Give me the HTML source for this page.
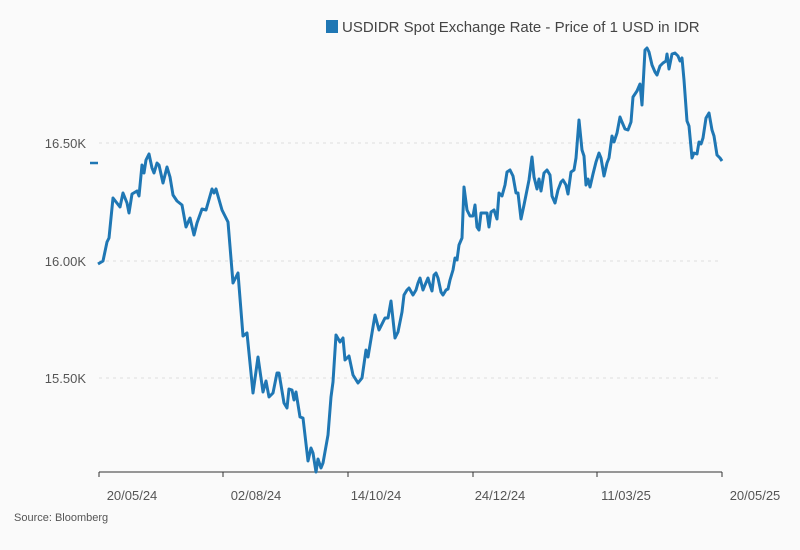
<!DOCTYPE html>
<html><head><meta charset="utf-8"><style>
body{margin:0;background:#fafafa;font-family:"Liberation Sans",sans-serif;}
</style></head><body>
<svg width="800" height="550" viewBox="0 0 800 550" xmlns="http://www.w3.org/2000/svg" style="display:block">
<rect width="800" height="550" fill="#fafafa"/>
<rect x="326" y="20" width="12" height="13" fill="#1f77b4"/>
<text x="342" y="32" font-size="15" fill="#444">USDIDR Spot Exchange Rate - Price of 1 USD in IDR</text>
<g stroke="#ddd" stroke-dasharray="3,4" stroke-width="1">
<line x1="99" y1="143" x2="722" y2="143"/><line x1="99" y1="261" x2="722" y2="261"/><line x1="99" y1="378" x2="722" y2="378"/>
</g>
<g font-size="13" fill="#555" text-anchor="end">
<text x="86" y="148">16.50K</text><text x="86" y="266">16.00K</text><text x="86" y="383">15.50K</text>
</g>
<line x1="90" y1="163" x2="98" y2="163" stroke="#1f77b4" stroke-width="2.5"/>
<line x1="99" y1="472" x2="722" y2="472" stroke="#333" stroke-width="1"/>
<g stroke="#333"><line x1="99" y1="472" x2="99" y2="477"/><line x1="223" y1="472" x2="223" y2="477"/><line x1="348" y1="472" x2="348" y2="477"/><line x1="473" y1="472" x2="473" y2="477"/><line x1="597" y1="472" x2="597" y2="477"/><line x1="722" y1="472" x2="722" y2="477"/></g>
<g font-size="13" fill="#555" text-anchor="middle">
<text x="132" y="500">20/05/24</text><text x="256" y="500">02/08/24</text><text x="376" y="500">14/10/24</text><text x="500" y="500">24/12/24</text><text x="626" y="500">11/03/25</text><text x="755" y="500">20/05/25</text>
</g>
<text x="14" y="521" font-size="11" fill="#555">Source: Bloomberg</text>
<polyline fill="none" stroke="#1f77b4" stroke-width="3" stroke-linejoin="round" points="98,264 103,261 107,242 109,238 113,198 120,207 123,193 127,203 129,213 132,194 137,191 139,196 142,165 144,173 146,160 149,154 152,168 154,173 157,163 159,165 163,183 167,167 170,177 173,195 177,201 182,205 186,227 190,218 194,235 197,223 202,209 206,210 212,189 214,193 216,189 222,210 225,216 228,222 233,283 238,273 243,336 247,333 253,393 258,357 263,392 266,381 269,397 273,393 277,373 279,373 284,403 287,408 289,389 292,390 294,400 296,392 300,417 303,418 308,461 311,448 313,453 316,472 318,459 321,468 323,463 328,435 331,397 333,382 336,335 340,342 343,338 345,360 349,356 353,375 358,383 362,378 366,350 368,357 375,315 379,330 385,318 388,318 391,301 395,338 398,332 402,312 404,295 407,290 409,288 413,295 416,290 418,283 420,278 423,290 425,285 428,278 430,285 432,291 434,275 436,273 438,278 441,292 443,295 446,290 448,289 450,280 453,270 455,258 457,260 459,245 462,238 464,187 467,210 470,216 473,216 475,205 477,227 479,230 481,213 484,213 487,213 489,227 491,212 494,210 497,219 499,193 502,196 505,185 507,172 510,170 513,176 516,193 518,193 521,219 524,205 527,190 529,180 532,157 534,177 537,189 539,179 541,191 544,173 547,170 550,175 552,196 555,203 558,190 561,182 563,180 566,185 568,194 571,172 574,170 576,158 579,120 582,150 584,156 586,185 588,179 590,187 593,174 596,162 599,153 601,158 604,176 607,163 609,158 612,136 614,142 617,133 620,117 622,122 625,129 628,130 631,122 633,97 637,91 640,84 642,105 645,50 647,48 649,52 652,65 655,72 657,75 660,66 663,63 666,61 667,54 669,69 672,54 675,53 678,56 680,61 682,58 684,80 687,121 689,126 692,158 694,153 697,154 699,142 701,144 703,138 706,118 709,113 712,130 714,136 717,155 720,158 722,161"/>
</svg>
</body></html>
